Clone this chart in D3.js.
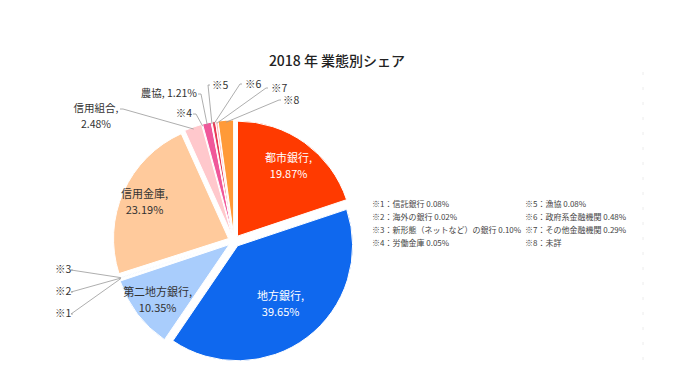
<!DOCTYPE html>
<html>
<head>
<meta charset="utf-8">
<script src="https://cdn.jsdelivr.net/npm/d3@7"></script>
<style>
  body { margin: 0; background: #fff; }
  svg { display: block; font-family: "Noto Sans CJK JP", "Noto Sans", sans-serif; }
</style>
</head>
<body>
<div id="chart"></div>
<script>
"use strict";

// slices, clockwise from 12 o'clock
const categories = ["都市銀行", "地方銀行", "第二地方銀行", "※1", "※2", "※3", "信用金庫", "信用組合", "※4", "農協", "※5", "※6", "※7", "※8"];
const shares = [19.87, 39.65, 10.35, 0.08, 0.02, 0.10, 23.19, 2.48, 0.05, 1.21, 0.08, 0.48, 0.29, 2.15];
const colors = ["#ff3a00", "#0f68ee", "#a9cdfc", "#d6e6ff", "#6fa6f5", "#3d86f2", "#ffca9c", "#ffc8cc", "#ffdfe4", "#f0579a", "#ff9fc0", "#e83a55", "#ffb3b3", "#ff9a38"];
const shownPct = ["19.87%", "39.65%", "10.35%", "", "", "", "23.19%", "2.48%", "", "1.21%", "", "", "", ""];

const notesLeft = ["※1：信託銀行 0.08%", "※2：海外の銀行 0.02%", "※3：新形態（ネットなど）の銀行 0.10%", "※4：労働金庫 0.05%"];
const notesRight = ["※5：漁協 0.08%", "※6：政府系金融機関 0.48%", "※7：その他金融機関 0.29%", "※8：未詳"];

const width = 700;
const height = 374;
const cx = 234;
const cy = 241;
const R = 115;
const explode = 6;

const svg = d3
  .select("#chart")
  .append("svg")
  .attr("width", width)
  .attr("height", height);

// faint frame remnant on the right
svg
  .append("line")
  .attr("x1", 643).attr("x2", 643)
  .attr("y1", 72).attr("y2", 372)
  .attr("stroke", "#ececec")
  .attr("stroke-dasharray", "3,12");

svg
  .append("text")
  .attr("x", 337)
  .attr("y", 66)
  .attr("text-anchor", "middle")
  .attr("font-size", "14px")
  .attr("font-weight", 500)
  .attr("fill", "#222")
  .text("2018 年  業態別シェア");

const pie = d3.pie().sort(null).value((d) => d)(shares);
const arc = d3.arc().innerRadius(0).outerRadius(R);

const shift = (d) => {
  const a = (d.startAngle + d.endAngle) / 2;
  return [explode * Math.sin(a), -explode * Math.cos(a)];
};
const onEdge = (d, r) => {
  const a = (d.startAngle + d.endAngle) / 2;
  const [sx, sy] = shift(d);
  return [cx + sx + r * Math.sin(a), cy + sy - r * Math.cos(a)];
};

const g = svg.append("g");

g.selectAll(".slice")
  .data(pie)
  .enter()
  .append("path")
  .attr("class", "slice")
  .attr("transform", (d) => {
    const [sx, sy] = shift(d);
    return `translate(${cx + sx},${cy + sy})`;
  })
  .attr("d", arc)
  .attr("fill", (d, i) => colors[i])
  .attr("stroke", "#fff")
  .attr("stroke-width", 1);

// labels inside the big slices
const inside = [0, 1, 2, 6];
const labelR = [0.76, 0.62, 0.78, 0.8];
inside.forEach((i, k) => {
  const [lx, ly] = onEdge(pie[i], R * labelR[k]);
  const fill = i < 2 ? "#fff" : "#333";
  const t = svg.append("text")
    .attr("text-anchor", "middle")
    .attr("font-size", "11px")
    .attr("fill", fill);
  t.append("tspan").attr("x", lx).attr("y", ly - 3).text(categories[i] + ",");
  t.append("tspan").attr("x", lx).attr("y", ly + 13).text(shownPct[i]);
});

// callout labels
const leader = svg.append("g")
  .attr("fill", "none")
  .attr("stroke", "#999")
  .attr("stroke-width", 0.8);

const callout = (i, tx, ty, anchor, lines, from) => {
  const [ex, ey] = onEdge(pie[i], R - 2);
  leader.append("polyline")
    .attr("points", `${from[0]},${from[1]} ${from[0] + (anchor === "start" ? -2 : 3)},${from[1]} ${ex},${ey}`);
  const t = svg.append("text")
    .attr("text-anchor", anchor)
    .attr("font-size", "10.5px")
    .attr("fill", "#333");
  lines.forEach((s, j) => {
    t.append("tspan").attr("x", tx).attr("y", ty + j * 16).text(s);
  });
};

callout(7, 96, 112, "middle", [categories[7] + ",", shownPct[7]], [120, 109]);
callout(8, 192, 117, "end", [categories[8]], [193, 114]);
callout(9, 197, 97, "end", [categories[9] + ", " + shownPct[9]], [198, 94]);
callout(10, 212, 89, "start", [categories[10]], [210, 85]);
callout(11, 245, 88, "start", [categories[11]], [242, 84]);
callout(12, 271, 92, "start", [categories[12]], [268, 88]);
callout(13, 283, 104, "start", [categories[13]], [281, 100]);
callout(5, 55, 273, "start", [categories[5]], [73, 270]);
callout(4, 55, 295, "start", [categories[4]], [73, 292]);
callout(3, 55, 317, "start", [categories[3]], [73, 314]);

// notes for the small slices
const notes = svg.append("g")
  .attr("font-size", "8px")
  .attr("fill", "#444");
notes.selectAll(".nl")
  .data(notesLeft)
  .enter()
  .append("text")
  .attr("x", 372)
  .attr("y", (d, i) => 207 + i * 13)
  .text((d) => d);
notes.selectAll(".nr")
  .data(notesRight)
  .enter()
  .append("text")
  .attr("x", 525)
  .attr("y", (d, i) => 207 + i * 13)
  .text((d) => d);
</script>
</body>
</html>
